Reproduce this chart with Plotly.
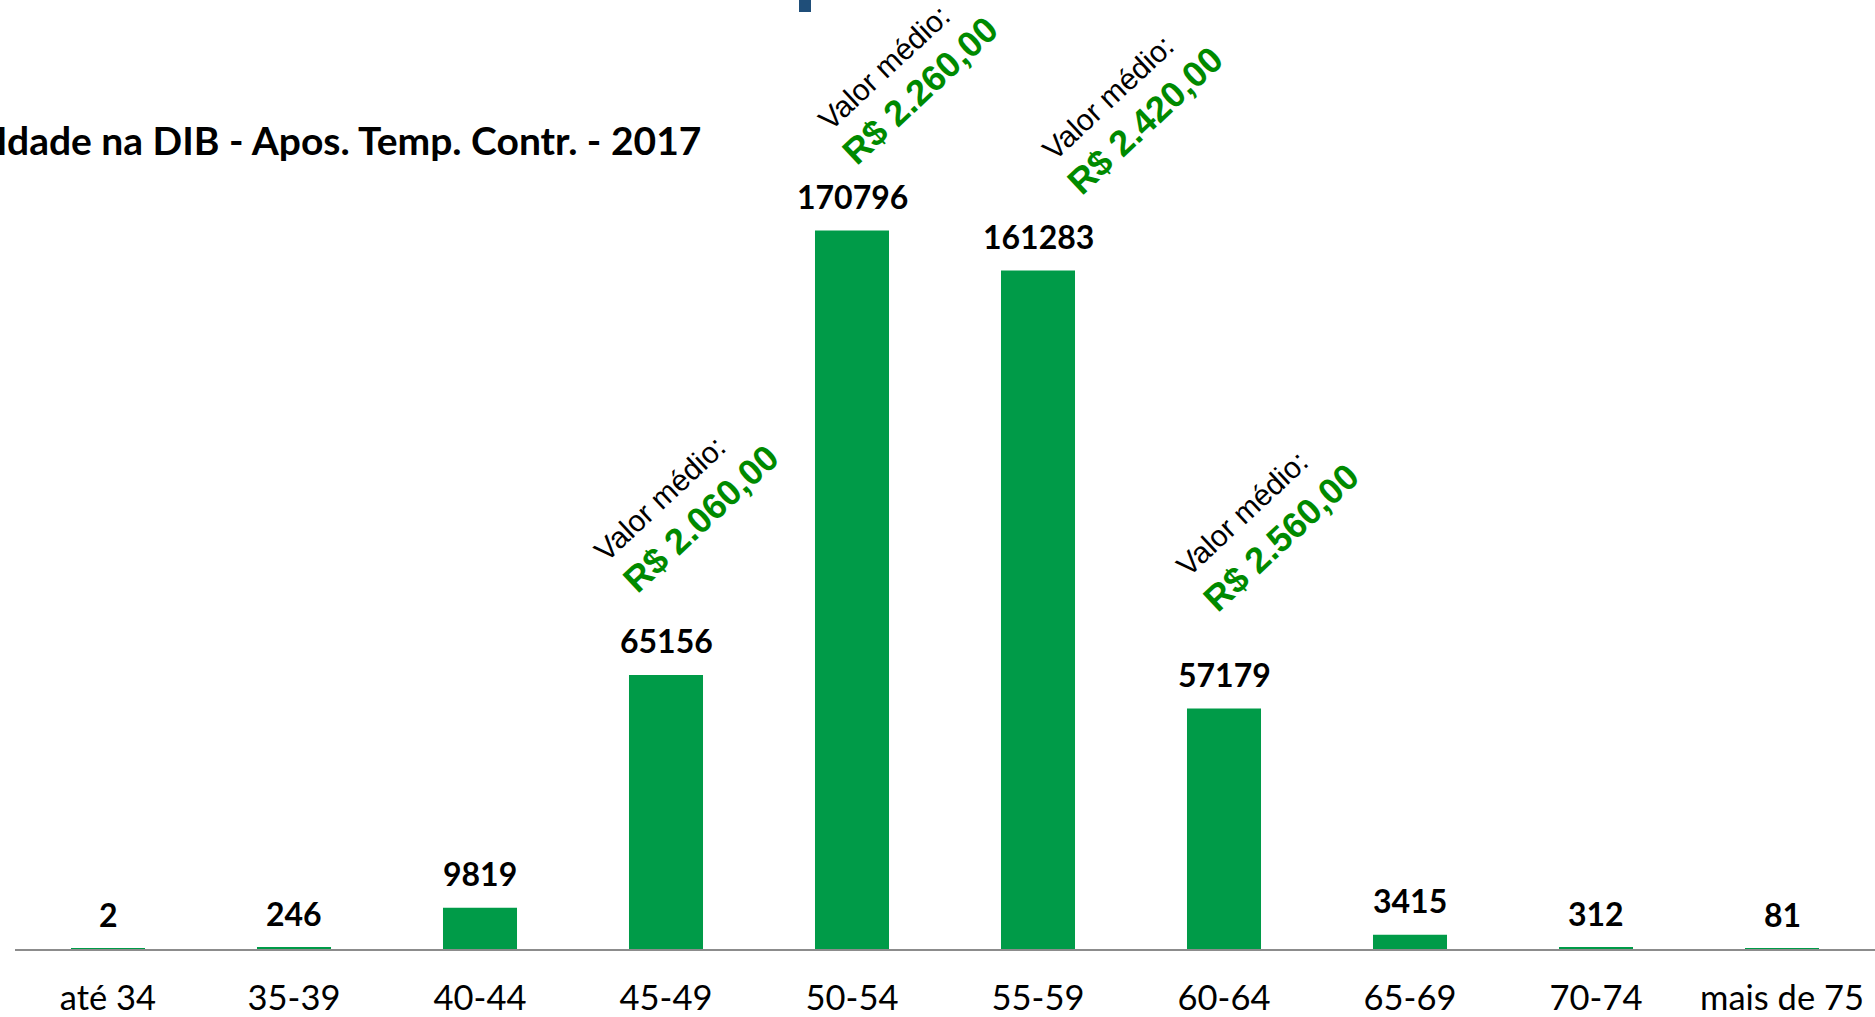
import plotly.graph_objects as go

# ---- data ----
categories = ["até 34", "35-39", "40-44", "45-49", "50-54", "55-59",
              "60-64", "65-69", "70-74", "mais de 75"]
counts = [2, 246, 9819, 65156, 170796, 161283, 57179, 3415, 312, 81]
avg_categories = ["45-49", "50-54", "55-59", "60-64"]
avg_values = ["R$ 2.060,00", "R$ 2.260,00", "R$ 2.420,00", "R$ 2.560,00"]
avg_caption = "Valor médio:"
title_text = "Idade na DIB - Apos. Temp. Contr. - 2017"

# ---- layout constants ----
W, H = 1875, 1017
ML, MR, MT, MB = 15, 0, 0, 68
PW, PH = W - ML - MR, H - MT - MB
YMAX = 225600
BAR_GREEN = "#009B48"
TEXT_GREEN = "#008A00"
CAL = "Lato"
ARIAL = "Liberation Sans"

# offsets (px) of the rotated captions relative to the bar top
cap_off = [(-6, 176), (32, 163), (70, 173), (18, 195)]
val_off = [(35, 156), (68, 140), (107, 150), (57, 171)]
ANG = -43

fig = go.Figure()
fig.add_trace(go.Bar(
    x=categories, y=counts, width=0.398,
    marker=dict(color=BAR_GREEN, line=dict(width=0)),
    hoverinfo="x+y",
))

annotations = []
for c, v in zip(categories, counts):
    annotations.append(dict(
        x=c, y=v, xref="x", yref="y", text=f"<b>{v}</b>", showarrow=False,
        xanchor="center", yanchor="middle", yshift=34,
        font=dict(family=CAL, size=32, color="black"),
    ))

for c, val, co, vo in zip(avg_categories, avg_values, cap_off, val_off):
    v = counts[categories.index(c)]
    annotations.append(dict(
        x=c, y=v, xref="x", yref="y", text=avg_caption, showarrow=False,
        xanchor="center", yanchor="middle", xshift=co[0], yshift=co[1],
        textangle=ANG, font=dict(family=ARIAL, size=30, color="black"),
    ))
    annotations.append(dict(
        x=c, y=v, xref="x", yref="y", text=f"<b>{val}</b>", showarrow=False,
        xanchor="center", yanchor="middle", xshift=vo[0], yshift=vo[1],
        textangle=ANG, font=dict(family=ARIAL, size=36, color=TEXT_GREEN),
    ))

annotations.append(dict(
    x=(703 - ML) / PW, y=(PH - 140) / PH, xref="paper", yref="paper",
    text=f"<b>{title_text}</b>", showarrow=False,
    xanchor="right", yanchor="middle",
    font=dict(family=CAL, size=39, color="black"),
))

fig.update_layout(
    width=W, height=H,
    margin=dict(l=ML, r=MR, t=MT, b=MB, pad=0),
    paper_bgcolor="white", plot_bgcolor="white",
    showlegend=False,
    annotations=annotations,
    shapes=[dict(type="rect", xref="paper", yref="paper",
                 x0=(799 - ML) / PW, x1=(811 - ML) / PW,
                 y0=(PH - 12) / PH, y1=1.0,
                 fillcolor="#1F4E79", line=dict(width=0))],
    xaxis=dict(
        type="category", range=[-0.5, 9.5], showgrid=False, zeroline=False,
        showline=True, linecolor="#8C8C8C", linewidth=2,
        ticks="outside", ticklen=18, tickcolor="rgba(0,0,0,0)",
        tickfont=dict(family=CAL, size=34.5, color="black"),
    ),
    yaxis=dict(range=[0, YMAX], visible=False, showgrid=False, zeroline=False),
)

fig.write_html("out.html", config={"displayModeBar": False},
               post_script="document.body.style.margin='0';document.body.style.overflow='hidden';")
